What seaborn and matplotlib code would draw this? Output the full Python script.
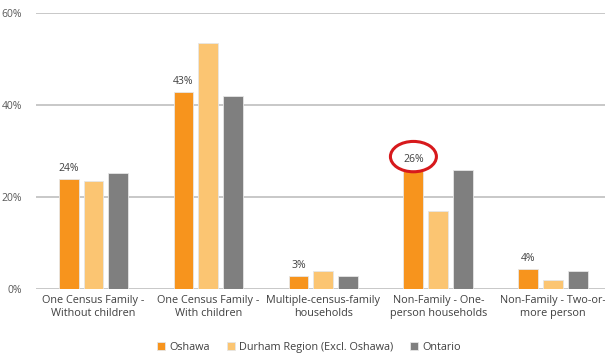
import matplotlib
matplotlib.use("Agg")
import matplotlib.pyplot as plt
import seaborn as sns
import pandas as pd
from matplotlib.patches import Ellipse

categories = ["One Census Family -\nWithout children", "One Census Family -\nWith children",
              "Multiple-census-family\nhouseholds", "Non-Family - One-\nperson households",
              "Non-Family - Two-or-\nmore person"]
series = ["Oshawa", "Durham Region (Excl. Oshawa)", "Ontario"]
oshawa = [23.9, 42.8, 2.8, 25.9, 4.3]
durham = [23.5, 53.4, 4.0, 17.0, 2.0]
ontario = [25.3, 42.0, 2.8, 25.9, 3.9]
oshawa_labels = ["24%", "43%", "3%", "26%", "4%"]
yticks = [0, 20, 40, 60]
ytick_labels = ["0%", "20%", "40%", "60%"]

df = pd.DataFrame({
    "category": categories * 3,
    "series": [series[0]] * 5 + [series[1]] * 5 + [series[2]] * 5,
    "value": oshawa + durham + ontario,
})

sns.set_style("white")
plt.rcParams["font.family"] = ["Open Sans", "DejaVu Sans"]

fig = plt.figure(figsize=(6.05, 3.53), dpi=100)
ax = fig.add_axes([0.0595, 0.181, 0.9405, 0.782])

palette = ["#F7941D", "#FBC572", "#7F7F7F"]
sns.barplot(data=df, x="category", y="value", hue="series", hue_order=series,
            order=categories, palette=palette, saturation=1, width=0.65, gap=0.2, ax=ax,
            edgecolor="#E6E6E6", linewidth=0.6, legend=True, zorder=3)

ax.set_ylim(0, 60)
ax.set_xlim(-0.5, 4.45)
ax.set_yticks(yticks)
ax.set_yticklabels(ytick_labels, color="#595959", fontsize=7.5)
ax.tick_params(axis="both", length=0, pad=4)
ax.tick_params(axis="y", pad=10)
ax.set_xticks(range(len(categories)))
ax.set_xticklabels(categories, color="#404040", fontsize=7.8, linespacing=1.35)
ax.set_xlabel("")
ax.set_ylabel("")
ax.grid(axis="y", color="#BFBFBF", linewidth=1.2, zorder=0)
for s in ax.spines.values():
    s.set_visible(False)

# data labels on Oshawa bars
bars = ax.containers[0]
for rect, lab in zip(bars, oshawa_labels):
    ax.annotate(lab, (rect.get_x() + rect.get_width() / 2, rect.get_height()),
                xytext=(0, 10.5), textcoords="offset pixels", ha="center", va="center",
                fontsize=7.5, color="#404040")

# red circle around the 26% label
r = bars[3]
cx = r.get_x() + r.get_width() / 2
ell = Ellipse((cx, r.get_height() + 2.9), width=0.40, height=6.6, fill=False,
              edgecolor="#D7191C", linewidth=2.2, zorder=5, clip_on=False)
ax.add_patch(ell)

leg = ax.legend(loc="upper center", bbox_to_anchor=(0.48, -0.155), ncol=3, frameon=False,
                fontsize=7.8, handlelength=0.7, handleheight=0.7, handletextpad=0.4,
                columnspacing=1.6)
for t in leg.get_texts():
    t.set_color("#404040")

fig.savefig("out.png", dpi=100)
